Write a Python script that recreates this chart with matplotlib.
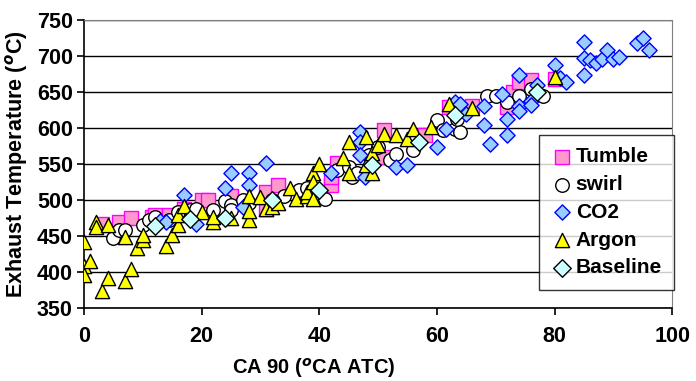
import matplotlib
matplotlib.use("Agg")
import matplotlib.pyplot as plt

plt.rcParams['font.family'] = ['Liberation Sans', 'DejaVu Sans']
plt.rcParams['font.weight'] = 'bold'
plt.rcParams['mathtext.fontset'] = 'custom'
plt.rcParams['mathtext.rm'] = 'Liberation Sans:bold'
plt.rcParams['mathtext.bf'] = 'Liberation Sans:bold'

# Tumble
tumble_x = [3, 6, 8, 11.5, 12, 14.5, 17, 20, 21, 25, 31, 31, 33, 42, 42, 43,
            51, 51, 58, 62, 66, 72, 73, 74, 76, 80]
tumble_y = [467, 470, 475, 477, 479, 479, 488, 500, 500, 505, 488, 511, 521, 521, 532, 552,
            597, 560, 590, 629, 631, 629, 650, 664, 666, 668]

# swirl
swirl_x = [5, 6, 7, 10, 11, 12, 14.5, 16, 18, 19, 22, 24, 25, 25, 27, 28, 32, 34,
           36.5, 38, 41, 43, 45, 45.5, 46.5, 48.5, 50, 52, 53, 56,
           60, 61, 63, 64, 63.5, 68.5, 70, 72, 74, 76, 78]
swirl_y = [447, 459, 459, 465, 472, 477, 472, 484, 486, 488, 486, 498, 493, 486, 500, 496, 500, 505,
           514, 516, 502, 541, 546, 532, 537, 562, 573, 555, 564, 569,
           611, 597, 599, 595, 613, 645, 645, 636, 645, 654, 645]

# CO2
co2_x = [12.9, 14, 17, 19, 24, 25, 27, 28, 28, 31, 42, 47, 47, 47, 47.7, 53, 55,
         60, 61.5, 63, 64, 65, 68, 68, 69, 71, 72, 72, 74, 74, 74, 76, 76, 77,
         80, 81, 82, 85, 85, 85, 86, 87, 88, 89, 90, 91, 94, 95, 96]
co2_y = [471, 470, 507, 467, 516, 538, 490, 537, 521, 551, 537, 594, 581, 562, 532, 546, 548,
         574, 599, 636, 634, 620, 630, 604, 578, 647, 613, 590, 673, 631, 624, 638, 632, 660,
         687, 670, 664, 720, 697, 673, 694, 690, 696, 708, 696, 698, 718, 725, 708]

# Argon
argon_x = [0, 0, 0, 1, 2, 2, 3, 4, 4, 7, 7, 8, 9, 10, 10, 14, 15, 16, 16, 17,
           20, 22, 22, 25, 28, 28, 28, 30, 31, 32, 33, 35, 36, 38, 38, 39, 39, 39,
           40, 44, 45, 45, 48, 48, 49, 49, 50, 51, 53, 55, 56, 59, 62, 66, 80]
argon_y = [441, 408, 396, 415, 469, 463, 374, 392, 465, 448, 387, 404, 433, 444, 451, 436, 451, 465, 479, 491,
           483, 469, 477, 475, 472, 485, 505, 504, 487, 490, 496, 516, 501, 505, 511, 502, 537, 525,
           550, 558, 581, 537, 587, 548, 537, 565, 576, 592, 590, 585, 599, 602, 633, 628, 671]

# Baseline
base_x = [12, 18, 24, 32, 40, 49, 57, 63, 77]
base_y = [464, 473, 475, 500, 514, 549, 581, 618, 650]

fig = plt.figure(figsize=(6.96, 3.81), dpi=100)
ax = fig.add_axes([0.1207, 0.1916, 0.845, 0.7559])

ax.scatter(tumble_x, tumble_y, marker='s', s=105, facecolor='#FF99CC', edgecolor='#FF00FF',
           linewidth=1.0, label='Tumble', zorder=3)
ax.scatter(swirl_x, swirl_y, marker='o', s=95, facecolor='white', edgecolor='black',
           linewidth=1.0, label='swirl', zorder=4)
ax.scatter(co2_x, co2_y, marker='D', s=60, facecolor='#99CCFF', edgecolor='#0000FF',
           linewidth=1.0, label='CO2', zorder=5)
ax.scatter(argon_x, argon_y, marker='^', s=105, facecolor='#FFFF00', edgecolor='black',
           linewidth=1.0, label='Argon', zorder=6)
ax.scatter(base_x, base_y, marker='D', s=80, facecolor='#CCFFFF', edgecolor='black',
           linewidth=1.0, label='Baseline', zorder=7)

ax.set_xlim(0, 100)
ax.set_ylim(350, 750)
ax.set_xticks([0, 20, 40, 60, 80, 100])
ax.set_yticks(range(350, 751, 50))
ax.yaxis.grid(True, color='black', linewidth=1.0)
ax.set_axisbelow(True)

for s in ['top', 'right']:
    ax.spines[s].set_color('#808080')
for s in ['left', 'bottom']:
    ax.spines[s].set_color('black')
    ax.spines[s].set_linewidth(1.2)

ax.tick_params(axis='both', direction='out', length=5, width=1.2, labelsize=15.5, pad=3)
ax.tick_params(axis='x', pad=8)
for lab in ax.get_xticklabels() + ax.get_yticklabels():
    lab.set_fontweight('bold')

ax.set_xlabel(r'CA 90 ($^{o}$CA ATC)', fontsize=14.5, fontweight='bold', labelpad=8)
ax.xaxis.set_label_coords(0.391, -0.165)
ax.set_ylabel(r'Exhaust Temperature ($^{o}$C)', fontsize=15.5, fontweight='bold', labelpad=5)

leg = ax.legend(loc='upper left', bbox_to_anchor=(0.774, 0.601), fontsize=15, frameon=True,
                fancybox=False, edgecolor='black', handletextpad=0.15, borderpad=0.6,
                labelspacing=0.42, handlelength=1.0, scatterpoints=1, borderaxespad=0)
leg.get_frame().set_linewidth(1.0)
for t in leg.get_texts():
    t.set_fontweight('bold')

fig.savefig('out.png', dpi=100)
